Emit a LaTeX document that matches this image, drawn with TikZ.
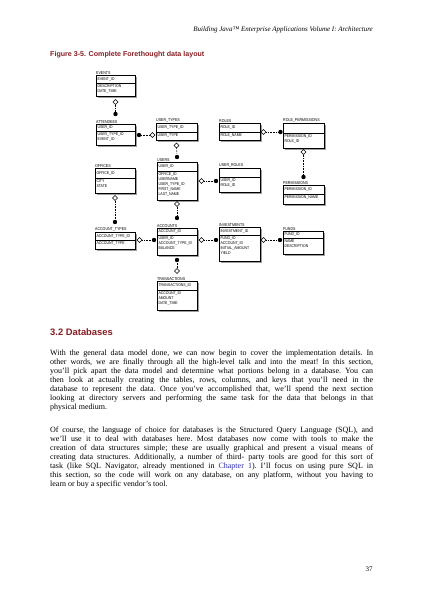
\documentclass[tikz,border=0pt]{standalone}
\usepackage{fontspec}
\setmainfont{Liberation Serif}
\newfontfamily\sansf{Liberation Sans}
\newfontfamily\tblf[FakeStretch=0.85]{Liberation Sans}
\usetikzlibrary{calc,shapes.geometric}
\definecolor{headred}{RGB}{135,30,35}
\definecolor{linkblue}{RGB}{40,40,170}
\definecolor{shadowc}{gray}{0.62}
\tikzset{
 tbox/.style={draw, line width=0.45pt, fill=white, inner sep=0pt, rectangle},
 ttitle/.style={font=\tblf\fontsize{4.2}{4.8}\selectfont, inner sep=0pt},
 ttext/.style={font=\tblf\fontsize{4.1}{5.1}\selectfont, inner sep=0pt, align=left},
 dia/.style={diamond, draw, fill=white, line width=0.5pt, inner sep=0pt, minimum size=5.2pt},
 dotm/.style={circle, fill=black, inner sep=0pt, minimum size=4.4pt},
 conn/.style={line width=0.6pt, dash pattern=on 0.7pt off 0.9pt},
 bodyline/.style={inner sep=0pt, anchor=base west, font=\frenchspacing\fontsize{8}{8.9}\selectfont},
}
% name, x, y, width, key height, total height, title, keys, attributes
\newcommand\tbl[9]{%
 \fill[shadowc] (#2+1.6,#3+1.6) rectangle ++(#4,#6);
 \node[tbox, minimum width=#4pt, minimum height=#6pt, anchor=north west] (#1) at (#2,#3) {};
 \draw[line width=0.4pt] ([yshift=-#5pt]#1.north west) -- ([yshift=-#5pt]#1.north east);
 \node[ttitle, anchor=south west] (#1t) at ([yshift=0.6pt]#1.north west) {#7};
 \node[ttext, anchor=west] (#1k) at ([xshift=1.3pt,yshift=-#5pt/2]#1.north west) {#8};
 \node[ttext, anchor=north west] (#1a) at ([xshift=1.3pt,yshift=-#5pt-1.2pt]#1.north west) {#9};
}
\newcommand\jl[3]{\node[bodyline] (#1) at (50,#2) {\makebox[323pt][s]{#3}};}
\newcommand\lastl[3]{\node[bodyline] (#1) at (50,#2) {#3};}
\begin{document}
\begin{tikzpicture}[x=1pt,y=-1pt]
\fill[white] (0,0) rectangle (423,598);
\useasboundingbox (0,0) rectangle (423,598);

\node[anchor=base east, inner sep=0pt, font=\itshape\fontsize{7}{8}\selectfont] (hdr) at (373,31) {Building Java™ Enterprise Applications Volume I: Architecture};
\node[anchor=base west, inner sep=0pt, text=headred, font=\sansf\bfseries\fontsize{7.1}{8}\selectfont] (cap) at (50,56.5) {Figure 3-5. Complete Forethought data layout};

% tables
\tbl{events}{96}{75}{39}{8}{21}{EVENTS}{EVENT\_ID}{DESCRIPTION\\DATE\_TIME}
\tbl{attendees}{96}{124}{39}{7.5}{21}{ATTENDEES}{USER\_ID}{USER\_TYPE\_ID\\EVENT\_ID}
\tbl{usertypes}{156}{123}{41}{9}{17}{USER\_TYPES}{USER\_TYPE\_ID}{USER\_TYPE}
\tbl{roles}{219}{123}{41}{9}{17}{ROLES}{ROLE\_ID}{ROLE\_NAME}
\tbl{roleperm}{283}{123}{41}{10}{25}{ROLE\_PERMISSIONS}{}{PERMISSION\_ID\\ROLE\_ID}
\tbl{users}{157}{162}{40}{9}{38}{USERS}{USER\_ID}{OFFICE\_ID\\USERNAME\\USER\_TYPE\_ID\\FIRST\_NAME\\LAST\_NAME}
\tbl{userroles}{219}{168}{41}{9}{24}{USER\_ROLES}{}{USER\_ID\\ROLE\_ID}
\tbl{offices}{95}{168}{40}{10}{25}{OFFICES}{OFFICE\_ID}{CITY\\STATE}
\tbl{perms}{283}{185}{41}{9}{19}{PERMISSIONS}{PERMISSION\_ID}{PERMISSION\_NAME}
\tbl{accttypes}{95}{232}{40}{8}{17}{ACCOUNT\_TYPES}{ACCOUNT\_TYPE\_ID}{ACCOUNT\_TYPE}
\tbl{accounts}{157}{228}{40}{7.5}{27}{ACCOUNTS}{ACCOUNT\_ID}{USER\_ID\\ACCOUNT\_TYPE\_ID\\BALANCE}
\tbl{invest}{219}{227}{41}{8}{34}{INVESTMENTS}{INVESTMENT\_ID}{FUND\_ID\\ACCOUNT\_ID\\INITIAL\_AMOUNT\\YIELD}
\tbl{funds}{283}{231}{40}{7.5}{23}{FUNDS}{FUND\_ID}{NAME\\DESCRIPTION}
\tbl{trans}{157}{281}{40}{9}{29}{TRANSACTIONS}{TRANSACTIONS\_ID}{ACCOUNT\_ID\\AMOUNT\\DATE\_TIME}

% relationship markers
\node[dia] (d1) at (115.5,102) {};  \node[dotm] (c1) at (115.5,114) {};
\node[dotm] (c2) at (139,135) {};   \node[dia] (d2) at (152.5,135) {};
\node[dia] (d3) at (176.5,145.5) {};\node[dotm] (c3) at (177,157) {};
\node[dia] (d4) at (263.5,132) {};  \node[dotm] (c4) at (280.5,132) {};
\node[dia] (d5) at (303.5,152) {};  \node[dotm] (c5) at (303.5,177) {};
\node[dia] (d6) at (201.5,181) {};  \node[dotm] (c6) at (216,181) {};
\node[dia] (d7) at (115,198) {};    \node[dotm] (c7) at (115,222) {};
\node[dia] (d8) at (139.5,240) {};  \node[dotm] (c8) at (154,240) {};
\node[dia] (d9) at (177,204) {};    \node[dotm] (c9) at (177,218) {};
\node[dia] (d10) at (201.5,240) {}; \node[dotm] (c10) at (216,240) {};
\node[dia] (d11) at (263.5,240) {}; \node[dotm] (c11) at (280,240) {};
\node[dotm] (c12) at (177,260) {};  \node[dia] (d12) at (177,271) {};
\foreach \i in {1,...,12} {\draw[conn] (d\i) -- (c\i);}

% section heading
\node[anchor=base west, inner sep=0pt, text=headred, font=\sansf\bfseries\fontsize{9.4}{11}\selectfont] (sec) at (50,335.5) {3.2 Databases};

\jl{pa1}{355}{With the general data model done, we can now begin to cover the implementation details. In}
\jl{pa2}{364}{other words, we are finally through all the high-level talk and into the meat! In this section,}
\jl{pa3}{373}{you'll pick apart the data model and determine what portions belong in a database. You can}
\jl{pa4}{382}{then look at actually creating the tables, rows, columns, and keys that you'll need in the}
\jl{pa5}{391}{database to represent the data. Once you've accomplished that, we'll spend the next section}
\jl{pa6}{400}{looking at directory servers and performing the same task for the data that belongs in that}
\lastl{pa7}{409}{physical medium.}

\jl{pb1}{432}{Of course, the language of choice for databases is the Structured Query Language (SQL), and}
\jl{pb2}{441}{we'll use it to deal with databases here. Most databases now come with tools to make the}
\jl{pb3}{450}{creation of data structures simple; these are usually graphical and present a visual means of}
\jl{pb4}{459}{creating data structures. Additionally, a number of third- party tools are good for this sort of}
\jl{pb5}{468}{task (like SQL Navigator, already mentioned in \textcolor{linkblue}{Chapter 1}). I'll focus on using pure SQL in}
\jl{pb6}{477}{this section, so the code will work on any database, on any platform, without you having to}
\lastl{pb7}{486}{learn or buy a specific vendor's tool.}

\node[anchor=base, inner sep=0pt, font=\fontsize{7}{8}\selectfont] (pgno) at (369,571) {37};
\end{tikzpicture}
\end{document}
